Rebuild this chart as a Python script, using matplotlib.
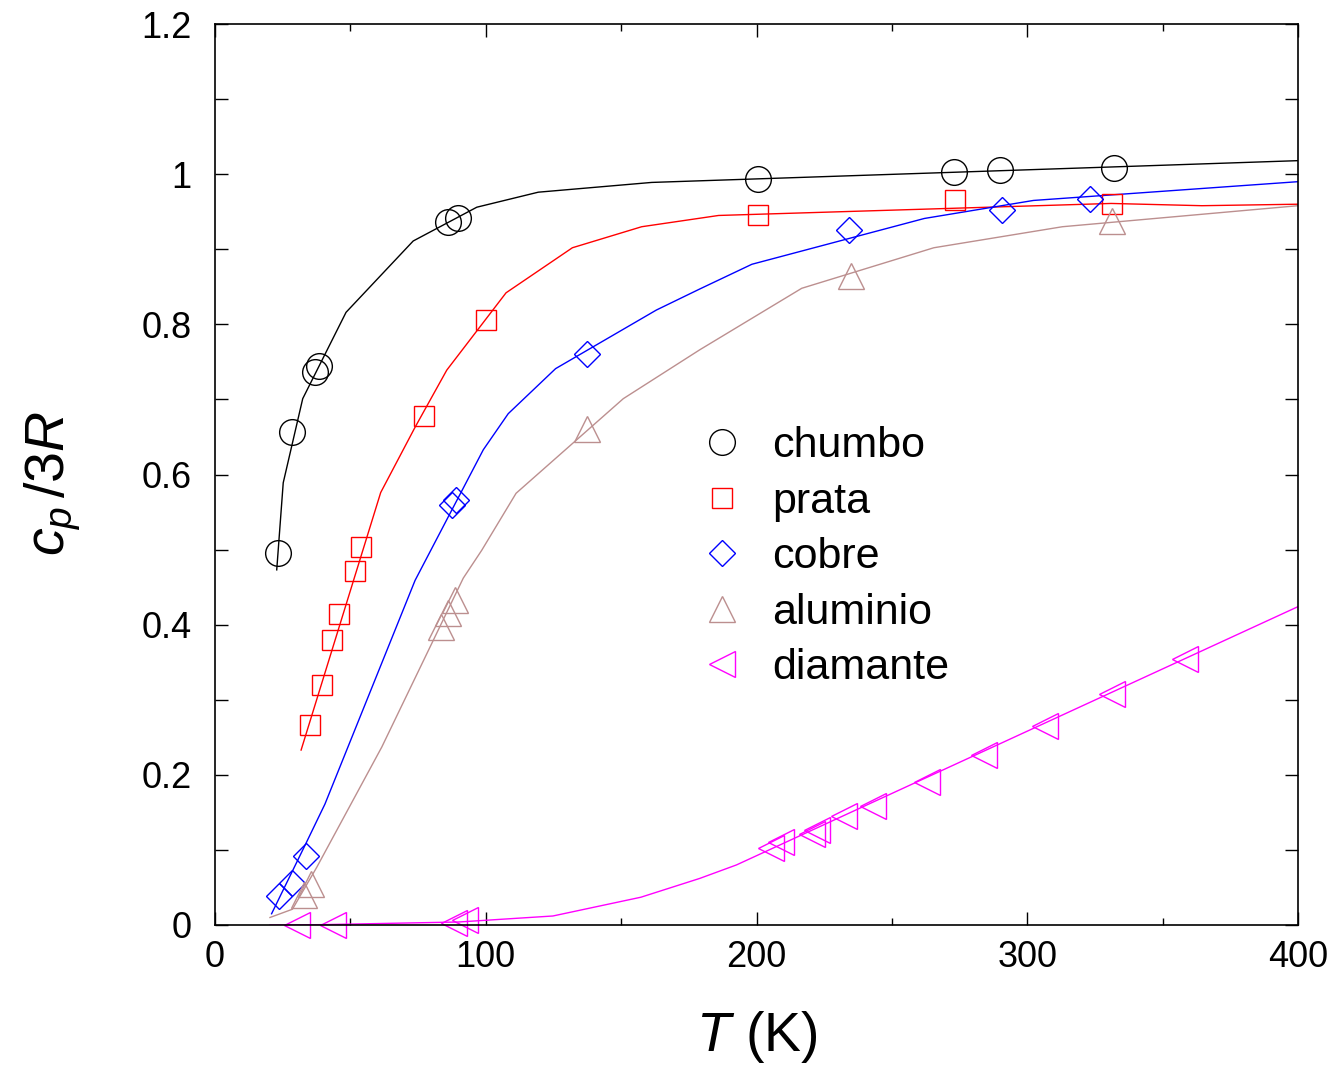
import matplotlib
matplotlib.use("Agg")
import matplotlib.pyplot as plt
from matplotlib.ticker import MultipleLocator

plt.rcParams['font.family'] = ['Liberation Sans', 'DejaVu Sans']
plt.rcParams['mathtext.fontset'] = 'custom'
plt.rcParams['mathtext.rm'] = 'Liberation Sans'
plt.rcParams['mathtext.it'] = 'Liberation Sans:italic'

# pontos experimentais (T em K, cp/3R)
chumbo_T = [23.4, 28.6, 36.9, 38.5, 86.0, 89.6, 200.6, 273, 290, 332]
chumbo_c = [0.496, 0.656, 0.737, 0.744, 0.936, 0.941, 0.994, 1.003, 1.006, 1.008]
prata_T = [35.2, 39.4, 43.2, 45.8, 51.6, 53.9, 77.2, 100.1, 200.4, 273.2, 331.4]
prata_c = [0.267, 0.320, 0.380, 0.414, 0.471, 0.503, 0.678, 0.806, 0.945, 0.966, 0.960]
cobre_T = [23.6, 28.3, 33.6, 87.5, 89.0, 137.3, 234, 290.5, 323.3]
cobre_c = [0.038, 0.056, 0.092, 0.559, 0.566, 0.761, 0.925, 0.952, 0.967]
alum_T = [32.9, 35.5, 83.4, 86.2, 88.5, 137.3, 235, 331.3]
alum_c = [0.040, 0.055, 0.397, 0.415, 0.433, 0.660, 0.865, 0.938]
diam_T = [30.3, 43.6, 88.3, 92.2, 205.3, 209.2, 220.6, 222.3, 232.2, 243.2,
          263.1, 284.2, 306.4, 331.4, 358.3]
diam_c = [0.0, 0.0, 0.003, 0.006, 0.103, 0.110, 0.121, 0.127, 0.145, 0.159,
          0.191, 0.227, 0.265, 0.307, 0.354]

# curvas de Debye
chumbo_lT = [22.8, 25.2, 32.4, 48.4, 73.2, 96.7, 119.4, 161.3, 342.8, 400]
chumbo_lc = [0.473, 0.589, 0.701, 0.816, 0.911, 0.956, 0.976, 0.989, 1.011, 1.018]
prata_lT = [31.8, 61.2, 73.9, 85.6, 107.5, 132, 157.6, 186, 331, 364.5, 400]
prata_lc = [0.233, 0.576, 0.663, 0.739, 0.842, 0.902, 0.930, 0.945, 0.961, 0.958, 0.960]
cobre_lT = [20.9, 33.9, 40.6, 73.9, 99.1, 108.3, 125.8, 163, 179, 198.3, 262, 302.3, 400]
cobre_lc = [0.015, 0.111, 0.161, 0.459, 0.633, 0.681, 0.741, 0.819, 0.847, 0.880,
            0.941, 0.965, 0.990]
alum_lT = [20.3, 28.6, 37.6, 61.6, 91.7, 98.5, 111.2, 150.8, 179, 216.7, 265.5, 313, 400]
alum_lc = [0.010, 0.021, 0.077, 0.237, 0.462, 0.499, 0.575, 0.701, 0.766, 0.848,
           0.902, 0.930, 0.958]
diam_lT = [20.3, 40, 90, 124.8, 157.3, 179, 192.6, 400]
diam_lc = [0.0, 0.0005, 0.004, 0.012, 0.037, 0.062, 0.080, 0.424]

marrom = '#bc8f8f'

fig = plt.figure(figsize=(13.38, 10.7), dpi=100)
ax = fig.add_axes([215/1338, 1 - 925/1070, 1083/1338, 901/1070])

ax.plot(chumbo_lT, chumbo_lc, color='black', lw=1.0)
ax.plot(prata_lT, prata_lc, color='red', lw=1.0)
ax.plot(cobre_lT, cobre_lc, color='blue', lw=1.0)
ax.plot(alum_lT, alum_lc, color=marrom, lw=1.0)
ax.plot(diam_lT, diam_lc, color='magenta', lw=1.0)

kw = dict(ls='none', mfc='none', mew=1.0, clip_on=False)
ax.plot(chumbo_T, chumbo_c, marker='o', ms=18.5, mec='black', label='chumbo', **kw)
ax.plot(prata_T, prata_c, marker='s', ms=15, mec='red', label='prata', **kw)
ax.plot(cobre_T, cobre_c, marker='D', ms=13, mec='blue', label='cobre', **kw)
ax.plot(alum_T, alum_c, marker='^', ms=18.5, mec=marrom, label='aluminio', **kw)
ax.plot(diam_T, diam_c, marker='<', ms=18.5, mec='magenta', label='diamante', **kw)

ax.set_xlim(0, 400)
ax.set_ylim(0, 1.2)
ax.xaxis.set_major_locator(MultipleLocator(100))
ax.xaxis.set_minor_locator(MultipleLocator(50))
ax.yaxis.set_minor_locator(MultipleLocator(0.1))
ax.set_yticks([0, 0.2, 0.4, 0.6, 0.8, 1.0, 1.2])
ax.set_yticklabels(['0', '0.2', '0.4', '0.6', '0.8', '1', '1.2'])

ax.tick_params(which='both', direction='in', top=True, right=True, width=1.0)
ax.tick_params(axis='x', which='major', length=9.4, labelsize=26, pad=11)
ax.tick_params(axis='x', which='minor', length=5)
ax.tick_params(axis='y', which='both', length=9.4, labelsize=26, pad=17)
for s in ax.spines.values():
    s.set_linewidth(1.2)

ax.set_xlabel(r'$T$ (K)', fontsize=40, labelpad=24)
ax.set_ylabel(r'$c_p\,/3R$', fontsize=40)
ax.yaxis.set_label_coords(-0.122, 0.49)

ax.legend(loc='center left', bbox_to_anchor=(0.448, 0.408), frameon=False,
          fontsize=31, numpoints=1, handlelength=1.0, handletextpad=0.67,
          labelspacing=0.36, borderpad=0, borderaxespad=0)

fig.savefig('out.png', dpi=100)
